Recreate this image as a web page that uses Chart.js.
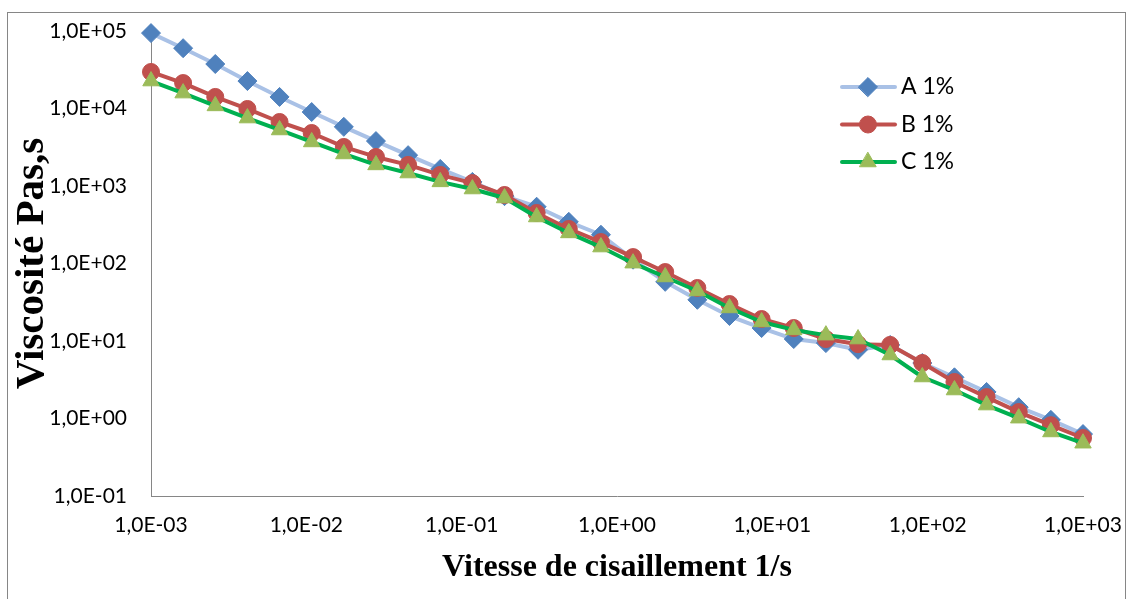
<!DOCTYPE html>
<html lang="fr">
<head>
<meta charset="utf-8">
<title>Viscosité en fonction de la vitesse de cisaillement</title>
<script src="https://cdn.jsdelivr.net/npm/chart.js@4.4.1/dist/chart.umd.min.js"></script>
<style>
    html, body { margin: 0; padding: 0; background: #fff; overflow: hidden; }
    /* cadre gris autour du graphique */
    #cadre {
        position: absolute; left: 7px; top: 12px;
        width: 1117px; height: 640px;
        border: 1px solid #868686;
    }
    #zone { position: absolute; left: 0; top: 0; width: 1129px; height: 599px; }
</style>
</head>
<body>
<div id="cadre"></div>
<div id="zone"><canvas id="graphe" width="1129" height="599"></canvas></div>
<script>
(function() {
    'use strict';

    // Vitesse de cisaillement (1/s), balayage logarithmique
    const vitesse = [
        0.001, 0.00161, 0.002593, 0.004175, 0.006723, 0.010826, 0.017433, 0.028072, 0.045204, 0.07279,
        0.11721, 0.18874, 0.30392, 0.48939, 0.78805, 1.269, 2.0434, 3.2903, 5.2983, 8.5316,
        13.738, 22.122, 35.622, 57.362, 92.367, 148.74, 239.5, 385.66, 621.02, 1000
    ];

    // Viscosité (Pa.s) pour chaque échantillon
    const viscoA = [
        94000, 60000, 37500, 22600, 14100, 9000, 5800, 3800, 2500, 1660,
        1130, 740, 540, 345, 235, 112, 58, 34, 21, 14.7,
        10.6, 9.4, 7.7, 8.9, 5.2, 3.4, 2.2, 1.4, 0.96, 0.63
    ];
    const viscoB = [
        29600, 21300, 14100, 9860, 6700, 4830, 3190, 2370, 1870, 1390,
        1090, 766, 449, 279, 189, 121, 77.6, 48.3, 30, 19.2,
        14.7, 10.6, 9.1, 8.9, 5.2, 2.96, 1.89, 1.21, 0.82, 0.56
    ];
    const viscoC = [
        22600, 15800, 10800, 7530, 5280, 3700, 2590, 1870, 1470, 1130,
        914, 700, 398, 248, 163, 101, 67, 44.2, 26.7, 17.6,
        13.9, 11.9, 10.6, 6.6, 3.43, 2.33, 1.49, 1.01, 0.67, 0.48
    ];

    const nomsSeries = ['A 1%', 'B 1%', 'C 1%'];

    // Graduations des axes
    const ticksX = [0.001, 0.01, 0.1, 1, 10, 100, 1000];
    const labelsX = ['1,0E-03', '1,0E-02', '1,0E-01', '1,0E+00', '1,0E+01', '1,0E+02', '1,0E+03'];
    const ticksY = [0.1, 1, 10, 100, 1000, 10000, 100000];
    const labelsY = ['1,0E-01', '1,0E+00', '1,0E+01', '1,0E+02', '1,0E+03', '1,0E+04', '1,0E+05'];

    const couleurs = {
        ligneA: '#A9C1E6',
        pointA: '#4F81BD',
        rouge: '#C0504D',
        vert: '#00B050',
        olive: '#9BBB59',
        axe: '#868686'
    };

    const police = 'Lato';

    function points(valeurs) {
        return vitesse.map((x, i) => ({ x: x, y: valeurs[i] }));
    }

    // Légende dessinée dans la zone du graphique (en haut à droite)
    const legendeInterne = {
        id: 'legendeInterne',
        afterDatasetsDraw: function(chart) {
            const ctx = chart.ctx;
            chart.data.datasets.forEach(function(ds, i) {
                const y = 87 + i * 37.5;
                ctx.save();
                ctx.strokeStyle = ds.borderColor;
                ctx.lineWidth = ds.borderWidth;
                ctx.lineCap = 'round';
                ctx.beginPath();
                ctx.moveTo(842, y);
                ctx.lineTo(895, y);
                ctx.stroke();

                ctx.fillStyle = ds.pointBackgroundColor;
                ctx.strokeStyle = ds.pointBorderColor;
                ctx.lineWidth = 1;
                Chart.helpers.drawPoint(ctx, {
                    pointStyle: ds.pointStyle,
                    radius: ds.pointRadius,
                    rotation: 0,
                    borderWidth: 1
                }, 868, y);

                ctx.fillStyle = '#000';
                ctx.font = '23px ' + police;
                ctx.textBaseline = 'middle';
                ctx.textAlign = 'left';
                ctx.fillText(ds.label, 901, y);
                ctx.restore();
            });
        }
    };

    const serie = function(label, data, ligne, fond, style, rayon, ordre) {
        return {
            label: label,
            data: points(data),
            borderColor: ligne,
            borderWidth: 4,
            borderJoinStyle: 'round',
            borderCapStyle: 'round',
            pointStyle: style,
            pointRadius: rayon,
            pointBackgroundColor: fond,
            pointBorderColor: fond,
            pointBorderWidth: 1,
            tension: 0,
            clip: false,
            order: ordre
        };
    };

    // L'écart entre axe et étiquettes passe par tickLength (traits non dessinés),
    // pour que ticks.padding n'agrandisse pas les marges du graphique.
    new Chart(document.getElementById('graphe'), {
        type: 'line',
        data: {
            datasets: [
                serie(nomsSeries[0], viscoA, couleurs.ligneA, couleurs.pointA, 'rectRot', 9.5, 3),
                serie(nomsSeries[1], viscoB, couleurs.rouge, couleurs.rouge, 'circle', 8.5, 2),
                serie(nomsSeries[2], viscoC, couleurs.vert, couleurs.olive, 'triangle', 9.5, 1)
            ]
        },
        options: {
            responsive: false,
            animation: false,
            layout: { autoPadding: false, padding: { left: 0, top: 31, right: 46, bottom: 0 } },
            plugins: {
                legend: { display: false },
                tooltip: { enabled: false }
            },
            scales: {
                x: {
                    type: 'logarithmic',
                    min: 0.001,
                    max: 1000,
                    afterBuildTicks: function(scale) {
                        scale.ticks = ticksX.map(v => ({ value: v }));
                    },
                    afterFit: function(scale) { scale.height = 103; },
                    grid: { display: false, drawTicks: true, tickLength: 17 },
                    border: { display: true, color: couleurs.axe, width: 1 },
                    ticks: {
                        autoSkip: false,
                        maxRotation: 0,
                        minRotation: 0,
                        padding: 0,
                        color: '#000',
                        font: { family: police, size: 21 },
                        callback: (v, i) => labelsX[i]
                    },
                    title: {
                        display: true,
                        text: 'Vitesse de cisaillement 1/s',
                        color: '#000',
                        font: { family: "'Liberation Serif', 'Times New Roman', serif", size: 32, weight: 'bold' },
                        padding: { top: 0, bottom: 12 }
                    }
                },
                y: {
                    type: 'logarithmic',
                    min: 0.1,
                    max: 100000,
                    afterBuildTicks: function(scale) {
                        scale.ticks = ticksY.map(v => ({ value: v }));
                    },
                    afterFit: function(scale) { scale.width = 151; },
                    grid: { display: false, drawTicks: true, tickLength: 24 },
                    border: { display: true, color: couleurs.axe, width: 1 },
                    ticks: {
                        autoSkip: false,
                        padding: 0,
                        color: '#000',
                        font: { family: police, size: 21 },
                        callback: (v, i) => labelsY[i]
                    },
                    title: {
                        display: true,
                        text: 'Viscosité Pas,s',
                        color: '#000',
                        font: { family: "'Liberation Serif', 'Times New Roman', serif", size: 41, weight: 'bold' },
                        padding: { top: 8, bottom: 0 }
                    }
                }
            }
        },
        plugins: [legendeInterne]
    });
})();
</script>
</body>
</html>
